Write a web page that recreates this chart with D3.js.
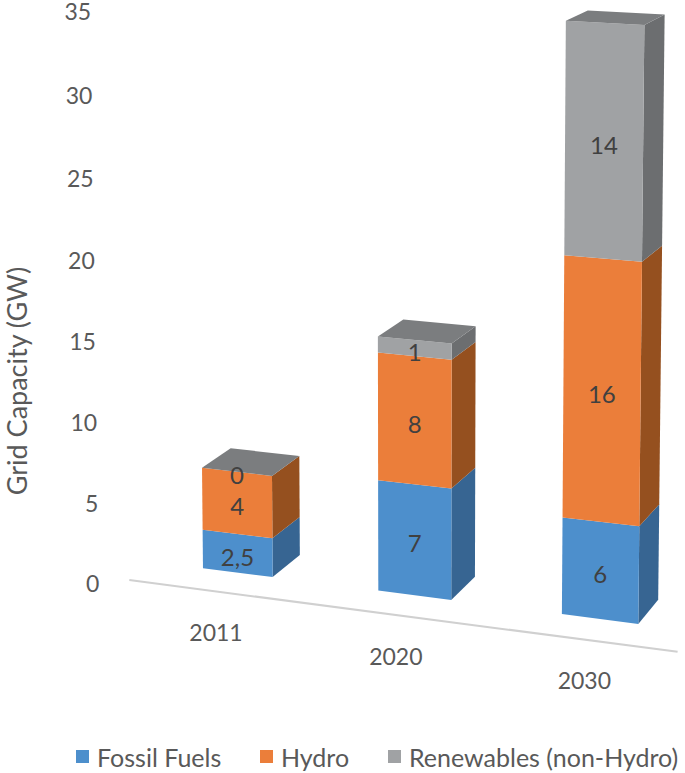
<!DOCTYPE html>
<html><head><meta charset="utf-8">
<script src="https://cdn.jsdelivr.net/npm/d3@7"></script>
<style>body{margin:0;background:#fff}svg{display:block}text{font-family:Lato,"Open Sans",sans-serif}</style>
</head><body><div id="chart"></div>
<script>
// data
const categories = ['2011', '2020', '2030'];
const seriesNames = ['Fossil Fuels', 'Hydro', 'Renewables (non-Hydro)'];
const fossil = [2.5, 7, 6];
const hydro = [4, 8, 16];
const renew = [0, 1, 14];
const valueTicks = [0, 5, 10, 15, 20, 25, 30, 35];

// face colours: front, side, top
const palette = [
    ['#4d8fcc', '#376592', '#3f77aa'],
    ['#eb7e3a', '#95501f', '#c4652b'],
    ['#a0a2a4', '#6c6e70', '#7b7d7f'],
];

// 3d camera (world: x = category slot, y = value height, z = depth)
const cam = { yaw: 0.3541, pitch: 0.1256, dist: 14.46, zoom: 198.6, cx: 414.6, cy: -45.1, pivotY: 3.344 };
const barHalf = 0.2014, barDepth = 0.3737, floorZ = -0.3042, axisOut = 0.4876, axisZ = -0.7;

const width = 685, height = 773;
const svg = d3.select('#chart').append('svg').attr('width', width).attr('height', height);

const x = d3.scalePoint().domain(categories).range([0, 2]);
const y = d3.scaleLinear().domain([0, 35]).range([0, 35 * 0.08473]);

const project = (X, v, Z) => {
    const Xr = X - 1, Yr = y(v) - cam.pivotY;
    const x1 = Xr * Math.cos(cam.yaw) + Z * Math.sin(cam.yaw);
    const z1 = -Xr * Math.sin(cam.yaw) + Z * Math.cos(cam.yaw);
    const y2 = Yr * Math.cos(cam.pitch) + z1 * Math.sin(cam.pitch);
    const z2 = -Yr * Math.sin(cam.pitch) + z1 * Math.cos(cam.pitch);
    const s = cam.zoom * cam.dist / (cam.dist + z2);
    return [cam.cx + s * x1, cam.cy - s * y2];
};
const poly = pts => pts.map(p => p.join(',')).join(' ');

const rows = categories.map((c, i) => ({ year: c, fossil: fossil[i], hydro: hydro[i], renew: renew[i] }));
const stacked = d3.stack().keys(['fossil', 'hydro', 'renew'])(rows);
const fmt = d3.formatLocale({ decimal: ',', thousands: '.', grouping: [3], currency: ['', ''] }).format('~g');

// floor line
const f0 = project(-axisOut, 0, floorZ), f1 = project(2 + axisOut, 0, floorZ);
svg.append('line')
    .attr('x1', f0[0]).attr('y1', f0[1]).attr('x2', f1[0]).attr('y2', f1[1])
    .attr('stroke', '#d0d0d0').attr('stroke-width', 2);

// bars
const bars = svg.append('g');
rows.forEach((row, i) => {
    const X = x(row.year);
    const g = bars.append('g');
    stacked.forEach((layer, k) => {
        const [v0, v1] = layer[i];
        g.append('polygon')
            .attr('points', poly([project(X + barHalf, v0, 0), project(X + barHalf, v0, barDepth),
                project(X + barHalf, v1, barDepth), project(X + barHalf, v1, 0)]))
            .attr('fill', palette[k][1]);
        g.append('polygon')
            .attr('points', poly([project(X - barHalf, v0, 0), project(X + barHalf, v0, 0),
                project(X + barHalf, v1, 0), project(X - barHalf, v1, 0)]))
            .attr('fill', palette[k][0]);
    });
    const topV = stacked[stacked.length - 1][i][1];
    g.append('polygon')
        .attr('points', poly([project(X - barHalf, topV, 0), project(X + barHalf, topV, 0),
            project(X + barHalf, topV, barDepth), project(X - barHalf, topV, barDepth)]))
        .attr('fill', palette[2][2]);
    // value labels
    stacked.forEach((layer) => {
        const [v0, v1] = layer[i];
        const c = project(X, (v0 + v1) / 2, 0);
        g.append('text')
            .attr('x', c[0]).attr('y', c[1] + 3)
            .attr('text-anchor', 'middle').attr('dominant-baseline', 'central')
            .attr('font-size', 24).attr('fill', '#404040')
            .text(fmt(v1 - v0));
    });
});

// value axis labels
svg.append('g').selectAll('text').data(valueTicks).join('text')
    .attr('x', d => project(-axisOut, d, axisZ)[0] + 4)
    .attr('y', d => project(-axisOut, d, axisZ)[1] - 22)
    .attr('text-anchor', 'end').attr('dominant-baseline', 'central')
    .attr('font-size', 23).attr('fill', '#595959')
    .text(d => d);

// category labels
svg.append('g').selectAll('text').data(categories).join('text')
    .attr('x', d => project(x(d), 0, floorZ)[0] + 2)
    .attr('y', d => project(x(d), 0, floorZ)[1] + 41)
    .attr('text-anchor', 'middle').attr('dominant-baseline', 'central')
    .attr('font-size', 23).attr('fill', '#595959')
    .text(d => d);

// axis title
svg.append('text')
    .attr('transform', 'translate(16,381) rotate(-90)')
    .attr('text-anchor', 'middle').attr('dominant-baseline', 'central')
    .attr('font-size', 27).attr('fill', '#595959')
    .text('Grid Capacity (GW)');

// legend
const legendX = [76, 260, 388];
const legend = svg.append('g').selectAll('g').data(seriesNames).join('g')
    .attr('transform', (d, i) => `translate(${legendX[i]},757)`);
legend.append('rect').attr('x', 0).attr('y', -7).attr('width', 13).attr('height', 13)
    .attr('fill', (d, i) => palette[i][0]);
legend.append('text').attr('x', 21).attr('y', 0)
    .attr('dominant-baseline', 'central')
    .attr('font-size', 25).attr('fill', '#595959')
    .text(d => d);
</script></body></html>
